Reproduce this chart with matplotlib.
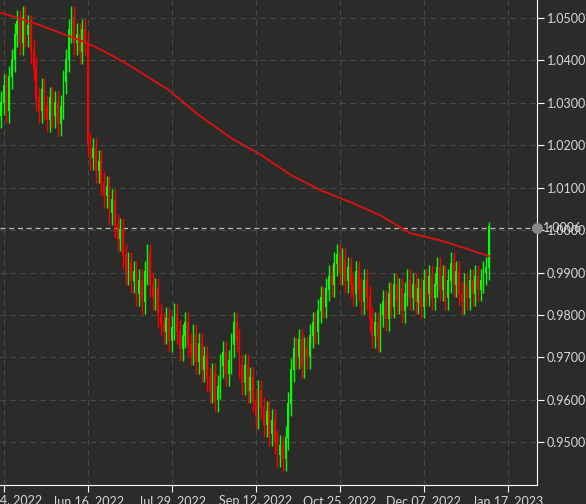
import matplotlib
matplotlib.use("Agg")
import matplotlib.pyplot as plt
import numpy as np

closes = [1.030,1.034,1.028,1.036,1.040,1.046,1.049,1.044,1.050,1.046,
          1.048,1.042,1.038,1.031,1.028,1.033,1.029,1.026,1.031,1.027,
          1.030,1.025,1.029,1.035,1.040,1.047,1.050,1.044,1.046,1.042,
          1.047,1.044,1.020,1.017,1.019,1.014,1.016,1.011,1.008,1.010,
          1.004,1.007,1.001,0.998,1.000,0.994,0.990,0.992,0.988,0.990,
          0.985,0.988,0.983,0.990,0.994,0.987,0.984,0.986,0.980,0.978,
          0.976,0.979,0.974,0.977,0.980,0.976,0.972,0.975,0.978,0.973,
          0.971,0.975,0.969,0.973,0.967,0.970,0.965,0.962,0.966,0.960,
          0.963,0.968,0.971,0.966,0.969,0.973,0.978,0.974,0.968,0.964,
          0.968,0.962,0.965,0.960,0.956,0.962,0.958,0.954,0.957,0.952,
          0.955,0.950,0.947,0.949,0.946,0.951,0.959,0.967,0.972,0.970,
          0.974,0.968,0.972,0.970,0.975,0.978,0.976,0.981,0.984,0.982,
          0.986,0.989,0.987,0.992,0.994,0.990,0.993,0.988,0.991,0.987,
          0.985,0.990,0.986,0.983,0.988,0.984,0.979,0.975,0.978,0.974,
          0.980,0.983,0.979,0.985,0.982,0.987,0.983,0.986,0.981,0.985,
          0.988,0.984,0.987,0.983,0.986,0.982,0.988,0.985,0.989,0.984,
          0.987,0.991,0.986,0.989,0.984,0.988,0.992,0.987,0.990,0.985,
          0.983,0.987,0.984,0.988,0.985,0.989,0.986,0.988,0.990,0.991,
          1.0006]
first_open = 1.027
wick = 0.0028

ma_idx = [0, 11, 31, 37, 46, 62, 73, 85, 96, 107, 118, 129, 140, 151, 162, 171, 180]
ma_val = [1.0512, 1.0491, 1.0443, 1.0425, 1.0394, 1.0330, 1.0271, 1.0217, 1.0177,
          1.0130, 1.0094, 1.0066, 1.0035, 0.9993, 0.9976, 0.9958, 0.9939]

tick_pos = [1, 32, 63, 94, 125, 156, 187]
tick_labels = ["May 04, 2022", "Jun 16, 2022", "Jul 29, 2022", "Sep 12, 2022",
               "Oct 25, 2022", "Dec 07, 2022", "Jan 17, 2023"]
last_level = 1.0006

plt.rcParams['font.family'] = ['Lato', 'DejaVu Sans']
bg = "#2b2c2a"
fig = plt.figure(figsize=(5.86, 5.04), dpi=100, facecolor=bg)
ax = fig.add_axes([0, 19/504, 537/586, 485/504], facecolor=bg)

c = np.array(closes)
o = np.concatenate([[first_open], c[:-1]])
x = np.arange(len(c))
hi = np.maximum(o, c) + wick
lo = np.minimum(o, c) - wick
hi[-1] = 1.0020
col = np.where(c >= o, "#00ff00", "#ff0000")
ax.vlines(x, lo, hi, colors=col, linewidth=1, zorder=3)
ax.bar(x, np.abs(c - o) + 0.0003, bottom=np.minimum(o, c), width=0.6, color=col, zorder=3)
ax.plot(ma_idx, ma_val, color="#e01010", linewidth=1.3, zorder=4)

ax.axhline(last_level, color="#bbbbbb", linestyle=(0, (4, 3)), linewidth=0.9, zorder=2)
ax.plot([1], [last_level], marker="o", color="#888888", markersize=7,
        transform=ax.get_yaxis_transform(), clip_on=False, zorder=5)

ax.set_xlim(-0.37, 197.8)
ax.set_ylim(0.93995, 1.05425)
yt = np.arange(0.95, 1.0501, 0.01)
ax.set_yticks(yt)
ax.set_yticklabels([f"{v:.4f}" for v in yt])
ax.set_xticks(tick_pos)
ax.set_xticklabels(tick_labels)
ax.yaxis.tick_right()
ax.grid(True, color="#4a4b49", linestyle=(0, (5, 4)), linewidth=0.8)
ax.set_axisbelow(True)
for s in ["top", "left"]:
    ax.spines[s].set_visible(False)
for s in ["right", "bottom"]:
    ax.spines[s].set_color("white")
ax.tick_params(axis="x", colors="white", labelcolor="#d8d8d8", labelsize=9, length=5, pad=2)
ax.tick_params(axis="y", colors="white", labelcolor="#d8d8d8", labelsize=9, length=5, pad=2)
ax.text(1.012, last_level, f"{last_level:.4f}", transform=ax.get_yaxis_transform(),
        color="#d8d8d8", fontsize=9, va="center", ha="left")
fig.savefig("out.png", dpi=100, facecolor=bg)
